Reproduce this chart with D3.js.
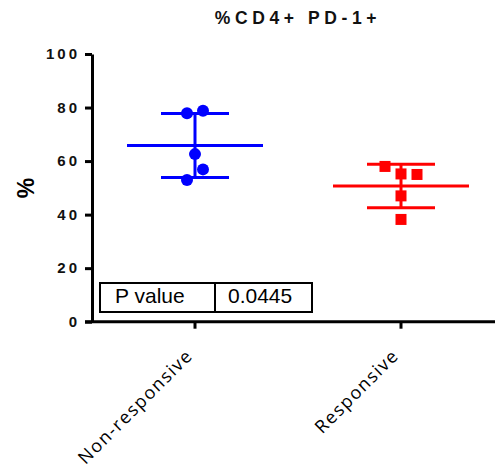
<!DOCTYPE html>
<html>
<head>
<meta charset="utf-8">
<script src="https://cdn.jsdelivr.net/npm/d3@7"></script>
<style>
  html, body { margin: 0; padding: 0; background: #fff; }
  svg { display: block; }
</style>
</head>
<body>
<script>
// Groups and individual measurements (% of CD4+ cells that are PD-1+)
const groups = ["Non-responsive", "Responsive"];
const groupColors = ["#0000ff", "#ff0000"];
const nonResponsive = [77.9, 78.8, 62.6, 56.9, 52.9];
const responsive = [58.0, 55.2, 55.0, 47.0, 38.2];
// Side-by-side dodge slot for each point (to avoid overlaps)
const nonResponsiveDodge = [-1, 1, 0, 1, -1];
const responsiveDodge = [-2, 0, 2, 0, 0];
const yTicks = [0, 20, 40, 60, 80, 100];
const pValueLabel = "P value";
const pValue = "0.0445";
const title = "%CD4+ PD-1+";
const yLabel = "%";

const W = 495, H = 472;
const svg = d3.select("body").append("svg").attr("width", W).attr("height", H);

const x = d3.scaleBand().domain(groups).range([92, 504]).padding(0);
const y = d3.scaleLinear().domain([0, 100]).range([321.7, 54]);
const dodgeStep = 8;

const mean = a => d3.mean(a);
const sd = a => d3.deviation(a);

const series = [
  { name: groups[0], values: nonResponsive, dodge: nonResponsiveDodge, color: groupColors[0], shape: "circle" },
  { name: groups[1], values: responsive, dodge: responsiveDodge, color: groupColors[1], shape: "square" }
];

// Title
svg.append("text")
  .attr("x", 298).attr("y", 24)
  .attr("text-anchor", "middle")
  .style("font-family", "'Liberation Sans', Arial, sans-serif")
  .style("font-weight", "bold")
  .style("font-size", "17.5px")
  .style("letter-spacing", "4.6px")
  .attr("fill", "#111")
  .text(title);

// Y axis
const yAxis = svg.append("g")
  .attr("transform", "translate(92,0)")
  .call(d3.axisLeft(y).tickValues(yTicks).tickSize(7).tickPadding(5).tickSizeOuter(0));
yAxis.select(".domain").attr("stroke", "#000").attr("stroke-width", 3);
yAxis.selectAll(".tick line").attr("stroke", "#000").attr("stroke-width", 3);
yAxis.selectAll(".tick text")
  .attr("fill", "#111")
  .style("font-family", "'Liberation Sans', Arial, sans-serif")
  .style("font-weight", "bold")
  .style("font-size", "15px")
  .style("letter-spacing", "3px");

// X axis
const xAxis = svg.append("g")
  .attr("transform", `translate(0,${y(0)})`)
  .call(d3.axisBottom(x).tickSize(7).tickSizeOuter(0).tickFormat(""));
xAxis.select(".domain").attr("stroke", "#000").attr("stroke-width", 3)
  .attr("d", `M85,0H${W}`);
xAxis.selectAll(".tick line").attr("stroke", "#000").attr("stroke-width", 3);

// Rotated category labels
svg.append("g").selectAll("text")
  .data(groups)
  .join("text")
  .attr("transform", d => `translate(${x(d) + x.bandwidth() / 2 - 1},${y(0) + 35}) rotate(-45)`)
  .attr("text-anchor", "end")
  .style("font-family", "'Open Sans', sans-serif")
  .style("font-size", "18px")
  .style("letter-spacing", "1.5px")
  .attr("fill", "#000")
  .text(d => d);

// Y label
svg.append("text")
  .attr("transform", `translate(34,188) rotate(-90)`)
  .attr("text-anchor", "middle")
  .style("font-family", "'Liberation Sans', Arial, sans-serif")
  .style("font-weight", "bold")
  .style("font-size", "23px")
  .text(yLabel);

// Mean and SD bars, then points
series.forEach(s => {
  const cx = x(s.name) + x.bandwidth() / 2;
  const m = mean(s.values), d = sd(s.values);
  const g = svg.append("g").attr("stroke", s.color).attr("stroke-width", 3);
  g.append("line").attr("x1", cx).attr("x2", cx).attr("y1", y(m + d)).attr("y2", y(m - d));
  g.append("line").attr("x1", cx - 68).attr("x2", cx + 68).attr("y1", y(m)).attr("y2", y(m));
  g.append("line").attr("x1", cx - 34).attr("x2", cx + 34).attr("y1", y(m + d)).attr("y2", y(m + d));
  g.append("line").attr("x1", cx - 34).attr("x2", cx + 34).attr("y1", y(m - d)).attr("y2", y(m - d));

  const pts = svg.append("g").attr("fill", s.color);
  s.values.forEach((v, i) => {
    const px = cx + s.dodge[i] * dodgeStep;
    if (s.shape === "circle") {
      pts.append("circle").attr("cx", px).attr("cy", y(v)).attr("r", 6);
    } else {
      pts.append("rect").attr("x", px - 5.5).attr("y", y(v) - 5.5).attr("width", 11).attr("height", 11);
    }
  });
});

// P value table
const tbl = svg.append("g");
tbl.append("rect").attr("x", 100).attr("y", 283).attr("width", 212).attr("height", 29)
  .attr("fill", "#fff").attr("stroke", "#000").attr("stroke-width", 2);
tbl.append("line").attr("x1", 215).attr("x2", 215).attr("y1", 283).attr("y2", 312)
  .attr("stroke", "#000").attr("stroke-width", 2);
tbl.append("text").attr("x", 115).attr("y", 303)
  .style("font-family", "'Liberation Sans', Arial, sans-serif").style("font-size", "21px")
  .text(pValueLabel);
tbl.append("text").attr("x", 228).attr("y", 303)
  .style("font-family", "'Liberation Sans', Arial, sans-serif").style("font-size", "21px")
  .text(pValue);
</script>
</body>
</html>
